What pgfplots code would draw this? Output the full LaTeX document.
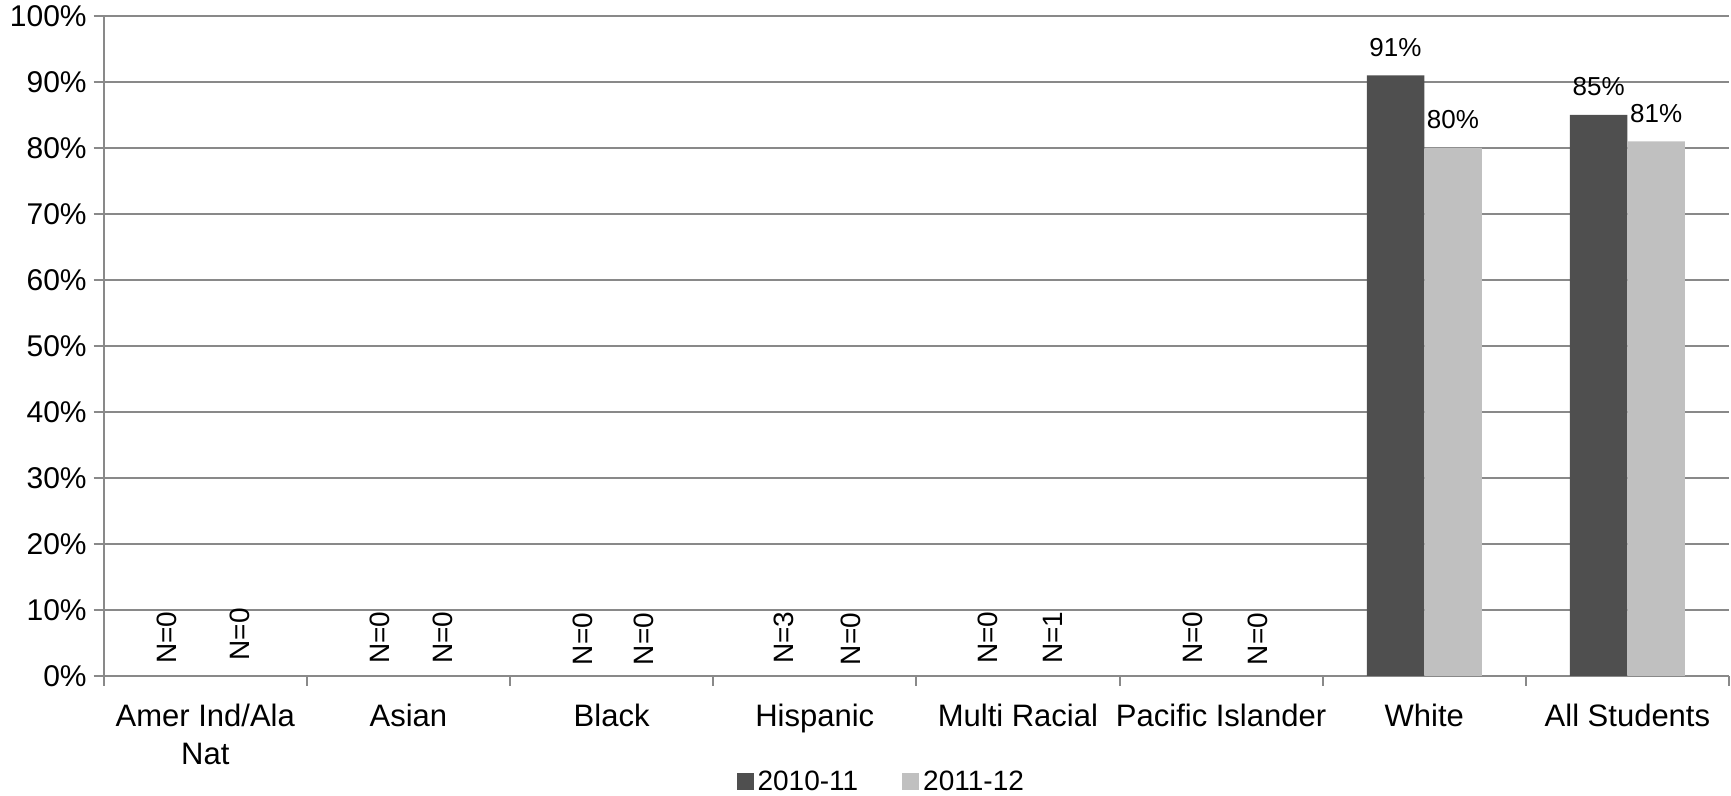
\documentclass[border=0pt]{standalone}
\usepackage{pgfplots}
\pgfplotsset{compat=1.18}
\usepackage{fontspec}
\setmainfont{Liberation Sans}
\definecolor{darkbar}{HTML}{4F4F4F}
\definecolor{lightbar}{HTML}{C0C0C0}
\definecolor{gridgray}{HTML}{898989}
\begin{document}
\begin{tikzpicture}
\useasboundingbox (0,0) rectangle (865.5pt,398pt);
\begin{axis}[
  at={(51.85pt,60pt)}, anchor=south west,
  scale only axis, width=812.65pt, height=330pt,
  xmin=-0.5, xmax=7.5, ymin=0, ymax=100,
  /pgf/number format/assume math mode=true,
  axis lines=left, axis line style={-, gridgray, line width=1pt},
  tick align=outside,
  major tick length=5pt,
  tick style={gridgray, line width=1pt},
  ytick={0,10,...,100},
  yticklabels={0\%,10\%,20\%,30\%,40\%,50\%,60\%,70\%,80\%,90\%,100\%},
  yticklabel style={font=\fontsize{15}{18}\selectfont},
  ymajorgrids, grid style={gridgray, line width=1pt},
  xtick={-0.5,0.5,...,7.5},
  xticklabels={},
  extra x ticks={0,1,2,3,4,5,6,7},
  extra x tick labels={Amer Ind/Ala\\Nat, Asian, Black, Hispanic, Multi Racial, Pacific Islander, White, All Students},
  extra x tick style={tick style={draw=none}, grid=none},
  xticklabel style={font=\fontsize{15.5}{19}\selectfont, align=center, anchor=north, yshift=-5.5pt},
  legend style={at={(0.479,0)}, anchor=center, yshift=-53pt, draw=none, fill=none,
    legend columns=2, font=\fontsize{14}{16}\selectfont,
    /tikz/every even column/.append style={column sep=20pt}},
  legend image code/.code={\fill[#1] (0pt,-4.25pt) rectangle (8.5pt,4.25pt);},
  clip=false,
]
\addplot[ybar, bar width=0.283, bar shift=0pt, fill=darkbar, draw=none,
  nodes near coords={\pgfmathprintnumber[assume math mode=true]{\pgfplotspointmeta}\%}, point meta=y,
  every node near coord/.append style={font=\fontsize{13}{15}\selectfont, anchor=base, yshift=9.5pt, black}]
  coordinates {(5.8585,91) (6.8585,85)};
\addplot[ybar, bar width=0.283, bar shift=0pt, fill=lightbar, draw=none,
  nodes near coords={\pgfmathprintnumber[assume math mode=true]{\pgfplotspointmeta}\%}, point meta=y,
  every node near coord/.append style={font=\fontsize{13}{15}\selectfont, anchor=base, yshift=9.5pt, black}]
  coordinates {(6.1415,80) (7.1415,81)};
\legend{2010-11, 2011-12}
\addplot[draw=none, mark=none, forget plot, nodes near coords, point meta=explicit symbolic,
  every node near coord/.append style={rotate=90, anchor=west, inner sep=0pt, font=\fontsize{14}{16}\selectfont, black}]
  table[meta=lab] {
x y lab
-0.19 1.8 N=0
0.17 2.3 N=0
0.86 1.8 N=0
1.17 1.8 N=0
1.86 1.6 N=0
2.16 1.6 N=0
2.85 1.8 N=3
3.18 1.6 N=0
3.85 1.8 N=0
4.17 1.8 N=1
4.86 1.8 N=0
5.18 1.6 N=0
};
\end{axis}
\end{tikzpicture}
\end{document}
